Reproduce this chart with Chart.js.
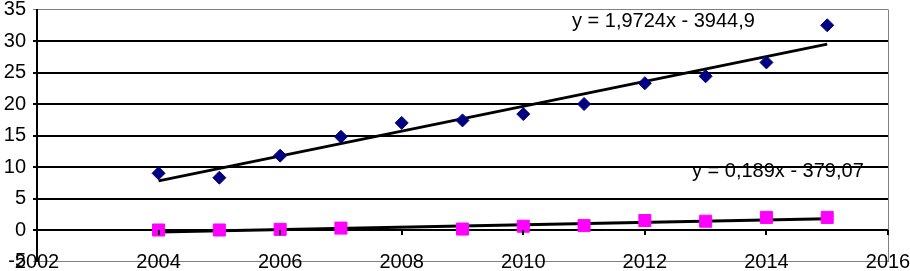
<!DOCTYPE html>
<html>
<head>
<meta charset="utf-8">
<script src="https://cdn.jsdelivr.net/npm/chart.js@4/dist/chart.umd.min.js"></script>
<style>
  html, body { margin: 0; padding: 0; background: #fff; }
  #grafico { display: block; }
</style>
</head>
<body>
<canvas id="grafico" width="910" height="271"></canvas>
<script>
// datos
const anos = [2004, 2005, 2006, 2007, 2008, 2009, 2010, 2011, 2012, 2013, 2014, 2015];
const serieAzul = [9.0, 8.3, 11.8, 14.8, 17.0, 17.4, 18.4, 20.0, 23.3, 24.4, 26.6, 32.5];
const serieRosa = [0.0, 0.0, 0.1, 0.3, null, 0.15, 0.6, 0.7, 1.5, 1.4, 2.0, 2.0];
const anosTendencia = [2004, 2015];
const tendenciaAzul = [7.8, 29.5];
const tendenciaRosa = [-0.31, 1.77];
const ecuaciones = ['y = 1,9724x - 3944,9', 'y = 0,189x - 379,07'];
const ticksX = [2002, 2004, 2006, 2008, 2010, 2012, 2014, 2016];

function puntos(xs, ys) {
    return xs.map((x, i) => ({ x: x, y: ys[i] })).filter(p => p.y !== null);
}

const fuente = 'Liberation Sans, Arial, sans-serif';

// marcas del eje X sobre la linea del cero, etiquetas de años y ecuaciones
const extras = {
    id: 'extras',
    afterDatasetsDraw(chart) {
        const ctx = chart.ctx;
        const sx = chart.scales.x;
        const sy = chart.scales.y;
        const y0 = sy.getPixelForValue(0);
        const yBase = sy.getPixelForValue(-5);
        ctx.save();
        ctx.strokeStyle = '#000';
        ctx.lineWidth = 2;
        ticksX.forEach(t => {
            const px = Math.round(sx.getPixelForValue(t));
            ctx.beginPath();
            ctx.moveTo(px, y0);
            ctx.lineTo(px, y0 + 5);
            ctx.stroke();
        });
        ctx.fillStyle = '#000';
        ctx.font = '20px ' + fuente;
        ctx.textBaseline = 'alphabetic';
        ctx.textAlign = 'center';
        ticksX.forEach(t => {
            ctx.fillText(String(t), sx.getPixelForValue(t), yBase + 6);
        });
        ctx.textAlign = 'left';
        ctx.fillText(ecuaciones[0], 572, 27);
        ctx.fillText(ecuaciones[1], 692, 177);
        ctx.restore();
    }
};

const ctx = document.getElementById('grafico').getContext('2d');
const grafico = new Chart(ctx, {
    type: 'scatter',
    data: {
        datasets: [
            {
                data: puntos(anos, serieAzul),
                pointStyle: 'rectRot',
                pointRadius: 6.5,
                backgroundColor: '#000080',
                borderColor: '#000080',
                borderWidth: 1
            },
            {
                data: puntos(anos, serieRosa),
                pointStyle: 'rect',
                pointRadius: 8.5,
                backgroundColor: '#FF00FF',
                borderColor: '#FF00FF',
                borderWidth: 1
            },
            {
                type: 'line',
                data: puntos(anosTendencia, tendenciaAzul),
                borderColor: '#000',
                borderWidth: 3,
                pointRadius: 0,
                fill: false
            },
            {
                type: 'line',
                data: puntos(anosTendencia, tendenciaRosa),
                borderColor: '#000',
                borderWidth: 3,
                pointRadius: 0,
                fill: false
            }
        ]
    },
    options: {
        responsive: false,
        animation: false,
        layout: { padding: { top: 8, right: 22, bottom: 7, left: 0 } },
        plugins: {
            legend: { display: false },
            tooltip: { enabled: false }
        },
        scales: {
            x: {
                type: 'linear',
                min: 2002,
                max: 2016,
                afterFit: s => { s.height = 0; s.paddingLeft = 0; s.paddingRight = 0; },
                ticks: { display: false, stepSize: 2 },
                grid: {
                    drawTicks: false,
                    color: c => (c.tick && c.tick.value === 2016) ? '#808080' : 'rgba(0,0,0,0)',
                    lineWidth: 1
                },
                border: { color: '#808080', width: 1 }
            },
            y: {
                min: -5,
                max: 35,
                afterFit: s => { s.width = 37; s.paddingTop = 0; s.paddingBottom = 0; },
                ticks: {
                    stepSize: 5,
                    color: '#000',
                    font: { family: fuente, size: 20 },
                    padding: 7
                },
                grid: {
                    tickLength: 4,
                    color: c => (c.tick && (c.tick.value === 35 || c.tick.value === -5)) ? '#808080' : '#000',
                    lineWidth: c => (c.tick && (c.tick.value === 35 || c.tick.value === -5)) ? 1 : 2
                },
                border: { color: '#000', width: 2 }
            }
        }
    },
    plugins: [extras]
});
</script>
</body>
</html>
